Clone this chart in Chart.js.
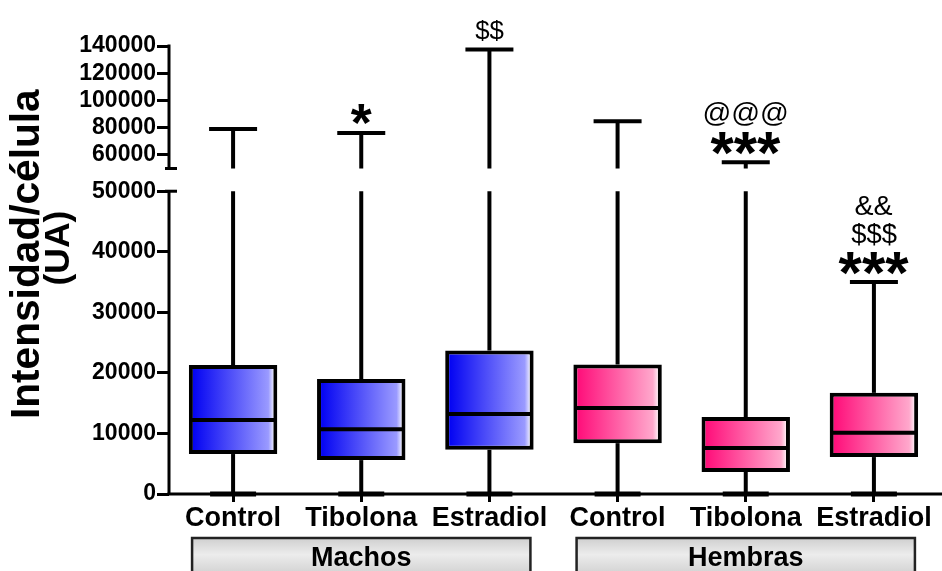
<!DOCTYPE html>
<html>
<head>
<meta charset="utf-8">
<title>Intensidad/célula</title>
<script src="https://cdn.jsdelivr.net/npm/chart.js@4.4.1/dist/chart.umd.min.js"></script>
<style>
	html, body { margin: 0; padding: 0; background: #fff; }
	#wrap { width: 942px; height: 571px; }
</style>
</head>
<body>
<div id="wrap"><canvas id="myChart" width="942" height="571"></canvas></div>
<script>
// categories and groups
var categories = ['Control', 'Tibolona', 'Estradiol', 'Control', 'Tibolona', 'Estradiol'];
var groups = ['Machos', 'Hembras'];
var groupOf = [0, 0, 0, 1, 1, 1];

// box plot values (min, q1, median, q3, max)
var minValues = [0, 0, 0, 0, 0, 0];
var q1Values = [6600, 5600, 7300, 8400, 3650, 6100];
var medianValues = [12200, 10700, 13200, 14200, 7600, 10100];
var q3Values = [21300, 19000, 23700, 21400, 12700, 16700];
var maxValues = [79000, 76000, 137500, 84700, 54600, 35000];

// y axis ticks
var yTickValues = [0, 10000, 20000, 30000, 40000, 50000, 60000, 80000, 100000, 120000, 140000];
var yTickLabels = ['0', '10000', '20000', '30000', '40000', '50000', '60000', '80000', '100000', '120000', '140000'];

// significance marks, bottom to top
var significance = [[], ['*'], ['$$'], [], ['***', '@@@'], ['***', '$$$', '&&']];

// broken axis: upper part is compressed
var BREAK = 50000;
var BREAK_GAP = 3750;
var UPPER_SCALE = 0.2248;
function toAxis(v) {
	if (v <= BREAK) return v;
	return BREAK + BREAK_GAP + (v - BREAK) * UPPER_SCALE;
}

var FONT = '"Liberation Sans", Arial, sans-serif';
var markWidth = { '*': 21, '***': 70, '$$': 28, '@@@': 82, '$$$': 45, '&&': 37 };
var fills = [['#0000f2', '#9a9aff'], ['#ff0a78', '#ffa8cc']];

// draws text so its ink box is centred on (cx, cy) and is `width` wide
function fitText(ctx, text, cx, cy, width, weight) {
	ctx.textAlign = 'left';
	ctx.textBaseline = 'alphabetic';
	ctx.font = weight + ' 100px ' + FONT;
	var m = ctx.measureText(text);
	var size = 100 * width / (m.actualBoundingBoxLeft + m.actualBoundingBoxRight);
	ctx.font = weight + ' ' + size + 'px ' + FONT;
	m = ctx.measureText(text);
	ctx.fillText(text, cx - (m.actualBoundingBoxRight - m.actualBoundingBoxLeft) / 2,
		cy + (m.actualBoundingBoxAscent - m.actualBoundingBoxDescent) / 2);
	return size;
}

function line(ctx, x1, y1, x2, y2) {
	ctx.beginPath();
	ctx.moveTo(x1, y1);
	ctx.lineTo(x2, y2);
	ctx.stroke();
}

var boxPlugin = {
	id: 'boxplot',
	afterDatasetsDraw: function(chart) {
		var ctx = chart.ctx;
		var xs = chart.scales.x;
		var ys = chart.scales.y;
		var meta = chart.getDatasetMeta(0);
		ctx.save();
		ctx.strokeStyle = '#000';
		ctx.fillStyle = '#000';
		categories.forEach(function(c, i) {
			var cx = xs.getPixelForValue(i);
			var half = meta.data[i].width / 2;
			var pMin = ys.getPixelForValue(toAxis(minValues[i]));
			var pMax = ys.getPixelForValue(toAxis(maxValues[i]));
			ctx.lineWidth = 4;
			line(ctx, cx, ys.getPixelForValue(q1Values[i]), cx, pMin);
			line(ctx, cx, ys.getPixelForValue(q3Values[i]), cx, ys.getPixelForValue(Math.min(maxValues[i], BREAK)));
			if (maxValues[i] > BREAK) {
				line(ctx, cx, ys.getPixelForValue(BREAK + BREAK_GAP), cx, pMax);
			}
			line(ctx, cx - 24, pMax, cx + 24, pMax);
			ctx.lineWidth = 5;
			line(ctx, cx - 23, pMin, cx + 23, pMin);
			// median
			ctx.lineWidth = 4;
			var pMed = ys.getPixelForValue(medianValues[i]);
			line(ctx, cx - half + 2, pMed, cx + half - 2, pMed);
			// marks above the whisker
			significance[i].forEach(function(s, k) {
				fitText(ctx, s, cx, pMax - 19 - 29 * k, markWidth[s], s.indexOf('*') >= 0 ? 'bold' : 'normal');
			});
		});
		ctx.restore();
	},
	afterDraw: function(chart) {
		var ctx = chart.ctx;
		var xs = chart.scales.x;
		var ys = chart.scales.y;
		var area = chart.chartArea;
		ctx.save();
		ctx.strokeStyle = '#000';
		ctx.lineWidth = 3;
		// x axis line
		line(ctx, area.left - 1.5, area.bottom, chart.width, area.bottom);
		// y axis, two pieces
		var pBreakLow = ys.getPixelForValue(BREAK);
		var pBreakHigh = ys.getPixelForValue(BREAK + BREAK_GAP);
		line(ctx, area.left, area.bottom, area.left, pBreakLow);
		line(ctx, area.left, pBreakHigh, area.left, area.top - 1.5);
		line(ctx, area.left - 4, pBreakLow, area.left + 8, pBreakLow);
		line(ctx, area.left - 4, pBreakHigh, area.left + 8, pBreakHigh);

		// group boxes under the categories
		groups.forEach(function(g, gi) {
			var idx = [];
			groupOf.forEach(function(v, i) { if (v === gi) idx.push(i); });
			var x1 = xs.getPixelForValue(idx[0]) - 41;
			var x2 = xs.getPixelForValue(idx[idx.length - 1]) + 41;
			var grad = ctx.createLinearGradient(0, 538, 0, 571);
			grad.addColorStop(0, '#cfcfcf');
			grad.addColorStop(0.5, '#ececec');
			grad.addColorStop(1, '#d6d6d6');
			ctx.fillStyle = grad;
			ctx.fillRect(x1, 538, x2 - x1, 40);
			ctx.strokeStyle = '#222';
			ctx.lineWidth = 2.5;
			ctx.strokeRect(x1, 538, x2 - x1, 40);
			ctx.fillStyle = '#000';
			ctx.font = 'bold 27px ' + FONT;
			ctx.textAlign = 'center';
			ctx.textBaseline = 'alphabetic';
			ctx.fillText(g, (x1 + x2) / 2, 566);
		});

		// y title
		ctx.fillStyle = '#000';
		ctx.save();
		ctx.translate(24, 253);
		ctx.rotate(-Math.PI / 2);
		fitText(ctx, 'Intensidad/célula', 0, 0, 328, 'bold');
		ctx.restore();
		ctx.save();
		ctx.translate(59, 248);
		ctx.rotate(-Math.PI / 2);
		fitText(ctx, '(UA)', 0, 0, 72, 'bold');
		ctx.restore();
		ctx.restore();
	}
};

var boxes = categories.map(function(c, i) { return [q1Values[i], q3Values[i]]; });

var ctx = document.getElementById('myChart');
var myChart = new Chart(ctx, {
	type: 'bar',
	data: {
		labels: categories,
		datasets: [{
			data: boxes,
			backgroundColor: function(context) {
				var chart = context.chart;
				var f = fills[groupOf[context.dataIndex]];
				if (!chart.chartArea) return f[0];
				var cx = chart.scales.x.getPixelForValue(context.dataIndex);
				var g = chart.ctx.createLinearGradient(cx - 42, 0, cx + 42, 0);
				g.addColorStop(0, f[0]);
				g.addColorStop(0.92, f[1]);
				g.addColorStop(1, '#ffffff');
				return g;
			},
			borderColor: '#000',
			borderWidth: 4,
			borderSkipped: false,
			barPercentage: 0.69,
			categoryPercentage: 1
		}]
	},
	options: {
		responsive: false,
		animation: false,
		devicePixelRatio: 1,
		layout: { padding: { left: 0, right: 4, top: 46, bottom: 0 } },
		plugins: {
			legend: { display: false },
			tooltip: { enabled: false }
		},
		scales: {
			x: {
				grid: { display: true, offset: false, drawOnChartArea: false, drawTicks: true, tickLength: 8, color: '#000', lineWidth: 3 },
				border: { display: false },
				ticks: {
					color: '#000',
					font: { family: FONT, size: 27, weight: 'bold' },
					padding: 0,
					maxRotation: 0,
					autoSkip: false
				},
				afterFit: function(scale) { scale.height = 77; }
			},
			y: {
				min: 0,
				max: toAxis(140000),
				grid: { display: true, drawOnChartArea: false, drawTicks: true, tickLength: 12, color: '#000', lineWidth: 3 },
				border: { display: false },
				ticks: {
					color: '#000',
					font: { family: FONT, size: 23, weight: 'bold' },
					padding: 1,
					autoSkip: false,
					callback: function(value, index) { return yTickLabels[index]; }
				},
				afterBuildTicks: function(scale) {
					scale.ticks = yTickValues.map(function(v) { return { value: toAxis(v) }; });
				},
				afterFit: function(scale) { scale.width = 169; }
			}
		}
	},
	plugins: [boxPlugin]
});
</script>
</body>
</html>
